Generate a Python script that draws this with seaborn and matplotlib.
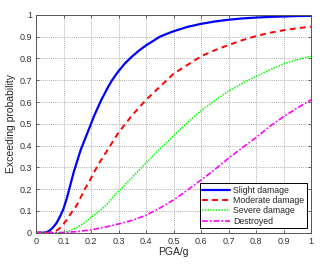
import matplotlib
matplotlib.use("Agg")
import matplotlib.pyplot as plt
import seaborn as sns

# ── data ───────────────────────────────────────────────────────────────────────
slight_x = [0, 0.025, 0.0375, 0.05, 0.0625, 0.075, 0.0875, 0.1, 0.1125, 0.125, 0.1375,
            0.15, 0.1625, 0.175, 0.1875, 0.2, 0.2125, 0.225, 0.2375, 0.25, 0.2625,
            0.275, 0.2875, 0.3, 0.325, 0.35, 0.375, 0.4, 0.425, 0.45, 0.475, 0.5,
            0.55, 0.6, 0.65, 0.7, 0.75, 0.8, 0.85, 0.9, 0.95, 1.0]
slight_y = [0, 0.0, 0.002, 0.01, 0.025, 0.045, 0.075, 0.11, 0.16, 0.22, 0.28,
            0.33, 0.38, 0.42, 0.46, 0.5, 0.54, 0.575, 0.61, 0.64, 0.67,
            0.697, 0.72, 0.742, 0.78, 0.81, 0.837, 0.86, 0.88, 0.90, 0.913, 0.925,
            0.945, 0.959, 0.97, 0.978, 0.984, 0.988, 0.991, 0.993, 0.995, 0.996]

moderate_x = [0, 0.05, 0.0625, 0.075, 0.0875, 0.1, 0.1125, 0.125, 0.1375, 0.15, 0.1625,
              0.175, 0.1875, 0.2, 0.2125, 0.225, 0.2375, 0.25, 0.2625, 0.275, 0.2875,
              0.3, 0.325, 0.35, 0.375, 0.4, 0.425, 0.45, 0.475, 0.5, 0.525, 0.55,
              0.575, 0.6, 0.65, 0.7, 0.75, 0.8, 0.85, 0.9, 0.95, 1.0]
moderate_y = [0, 0.0, 0.004, 0.01, 0.022, 0.04, 0.06, 0.085, 0.107, 0.13, 0.162,
              0.195, 0.222, 0.25, 0.28, 0.31, 0.335, 0.36, 0.385, 0.41, 0.435,
              0.46, 0.50, 0.54, 0.575, 0.61, 0.64, 0.67, 0.70, 0.73, 0.75, 0.77,
              0.79, 0.81, 0.838, 0.862, 0.884, 0.903, 0.918, 0.93, 0.939, 0.946]

severe_x = [0, 0.1, 0.125, 0.15, 0.175, 0.2, 0.225, 0.25, 0.275, 0.3, 0.325, 0.35,
            0.375, 0.4, 0.45, 0.5, 0.55, 0.6, 0.65, 0.7, 0.75, 0.8, 0.85, 0.9,
            0.95, 1.0]
severe_y = [0, 0.0, 0.01, 0.025, 0.045, 0.07, 0.095, 0.12, 0.155, 0.19, 0.222, 0.255,
            0.288, 0.32, 0.385, 0.445, 0.505, 0.56, 0.607, 0.65, 0.686, 0.718, 0.748,
            0.775, 0.795, 0.81]

destroyed_x = [0, 0.05, 0.1, 0.15, 0.2, 0.25, 0.3, 0.35, 0.4, 0.45, 0.5, 0.55,
               0.6, 0.65, 0.7, 0.75, 0.8, 0.85, 0.9, 0.95, 1.0]
destroyed_y = [0, 0.0, 0.001, 0.005, 0.013, 0.025, 0.04, 0.057, 0.08, 0.113, 0.15, 0.195,
               0.242, 0.29, 0.342, 0.39, 0.437, 0.488, 0.533, 0.573, 0.61]

ticks = [0, 0.1, 0.2, 0.3, 0.4, 0.5, 0.6, 0.7, 0.8, 0.9, 1]
tick_labels = ["0", "0.1", "0.2", "0.3", "0.4", "0.5", "0.6", "0.7", "0.8", "0.9", "1"]

# ── plot ───────────────────────────────────────────────────────────────────────
sns.set_theme(style="ticks")
plt.rcParams["font.family"] = ["Liberation Sans", "DejaVu Sans"]

fig = plt.figure(figsize=(3.2, 2.67), dpi=100)
ax = fig.add_axes([0.1125, 0.1285, 0.8595, 0.8155])

sns.lineplot(x=slight_x, y=slight_y, ax=ax, color="#0000ff", lw=1.6,
             label="Slight damage")
sns.lineplot(x=moderate_x, y=moderate_y, ax=ax, color="#ff0000", lw=1.4,
             linestyle=(0, (3, 2.2)), label="Moderate damage")
sns.lineplot(x=severe_x, y=severe_y, ax=ax, color="#00ff00", lw=1.1,
             linestyle=(0, (1, 0.8)), label="Severe damage")
sns.lineplot(x=destroyed_x, y=destroyed_y, ax=ax, color="#ff00ff", lw=1.2,
             linestyle=(0, (3.5, 1.2, 1, 1.2)), label="Destroyed")

ax.set_xlim(0, 1)
ax.set_ylim(0, 1)
ax.set_xticks(ticks)
ax.set_xticklabels(tick_labels)
ax.set_yticks(ticks)
ax.set_yticklabels(tick_labels)
ax.grid(True, color="#909090", linestyle=(0, (1, 1.5)), linewidth=0.6)
ax.tick_params(axis="both", direction="in", length=2.5, width=0.5, labelsize=6.5,
               colors="#333333", top=True, right=True, pad=3)
for sp in ax.spines.values():
    sp.set_linewidth(0.7)
    sp.set_color("#555555")

ax.set_xlabel("PGA/g", fontsize=7.5, labelpad=1)
ax.set_ylabel("Exceeding probability", fontsize=7.5, labelpad=2)

leg = ax.legend(loc="lower right", fontsize=6.3, frameon=True, fancybox=False,
                edgecolor="black", framealpha=1, handlelength=3.2, handletextpad=0.3,
                borderpad=0.3, labelspacing=0.15, borderaxespad=0.5)
leg.get_frame().set_linewidth(0.7)

fig.savefig("out.png", dpi=100)
